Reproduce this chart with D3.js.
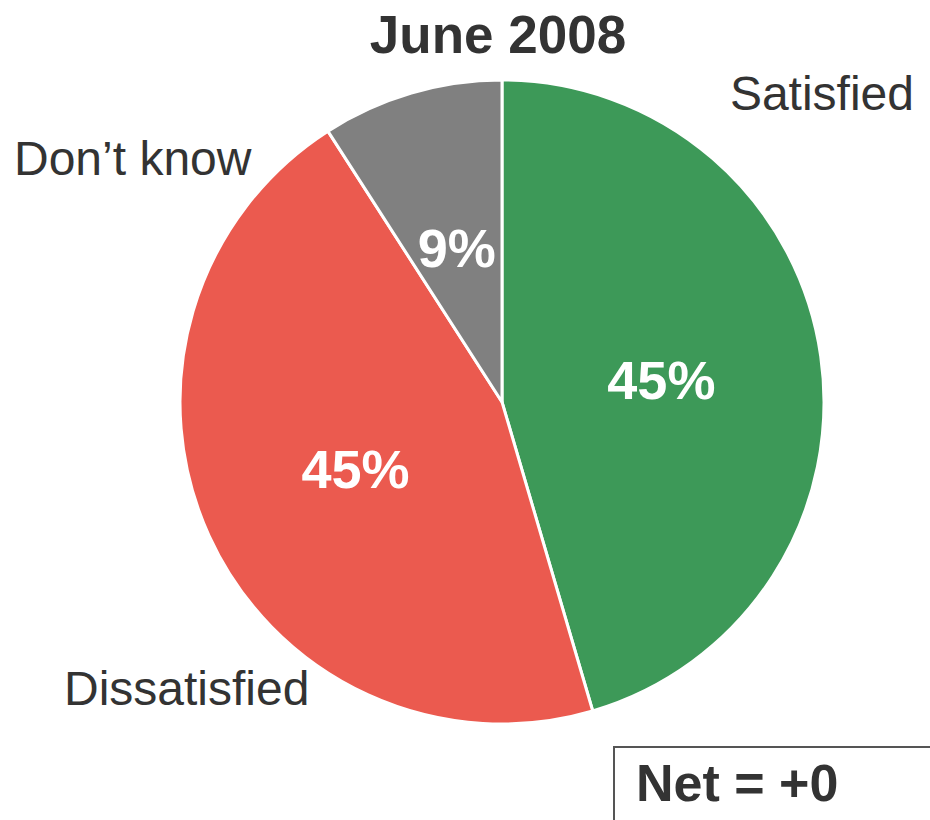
<!DOCTYPE html>
<html><head><meta charset="utf-8">
<script src="https://cdn.jsdelivr.net/npm/d3@7"></script>
<style>body{margin:0;background:#fff;}svg{display:block;font-family:"Liberation Sans",Arial,Helvetica,sans-serif;}</style>
</head><body>
<svg id="c" width="930" height="820"></svg>
<script>
const categories = ["Satisfied", "Dissatisfied", "Don\u2019t know"];
const values = [45, 45, 9];
const colors = ["#3d9958", "#eb5a4f", "#808080"];
const title = "June 2008";
const netText = "Net = +0";

const svg = d3.select("#c");
const cx = 502, cy = 402, R = 322;
const pie = d3.pie().sort(null).value(d => d.v);
const arcs = pie(categories.map((c,i)=>({c, v: values[i], col: colors[i]})));
const arc = d3.arc().innerRadius(0).outerRadius(R);
const labArc = d3.arc().innerRadius(R*0.5).outerRadius(R*0.5);
const g = svg.append("g").attr("transform", `translate(${cx},${cy})`);
g.selectAll("path").data(arcs).join("path")
  .attr("d", arc).attr("fill", d => d.data.col)
  .attr("stroke", "#fff").attr("stroke-width", 3).attr("stroke-linejoin","round");
g.selectAll("text.pct").data(arcs).join("text").attr("class","pct")
  .attr("transform", d => `translate(${labArc.centroid(d)})`)
  .attr("text-anchor","middle").attr("dy","0.36em")
  .attr("fill","#fff").attr("font-weight","bold").attr("font-size",54)
  .text(d => d.data.v + "%");

svg.append("text").attr("x", 498).attr("y", 53).attr("text-anchor","middle")
  .attr("font-weight","bold").attr("font-size",53).attr("fill","#333").text(title);

const outer = [
  {t: categories[0], x: 914, y: 110, a: "end"},
  {t: categories[1], x: 64, y: 705, a: "start"},
  {t: categories[2], x: 14, y: 175, a: "start"}
];
svg.selectAll("text.cat").data(outer).join("text").attr("class","cat")
  .attr("x", d=>d.x).attr("y", d=>d.y).attr("text-anchor", d=>d.a)
  .attr("font-size",48).attr("fill","#333").text(d=>d.t);

svg.append("rect").attr("x",614).attr("y",747).attr("width",330).attr("height",100)
  .attr("fill","#fff").attr("stroke","#555").attr("stroke-width",2);
svg.append("text").attr("x",636).attr("y",801).attr("font-weight","bold")
  .attr("font-size",52).attr("fill","#333").text(netText);
</script>
</body></html>
